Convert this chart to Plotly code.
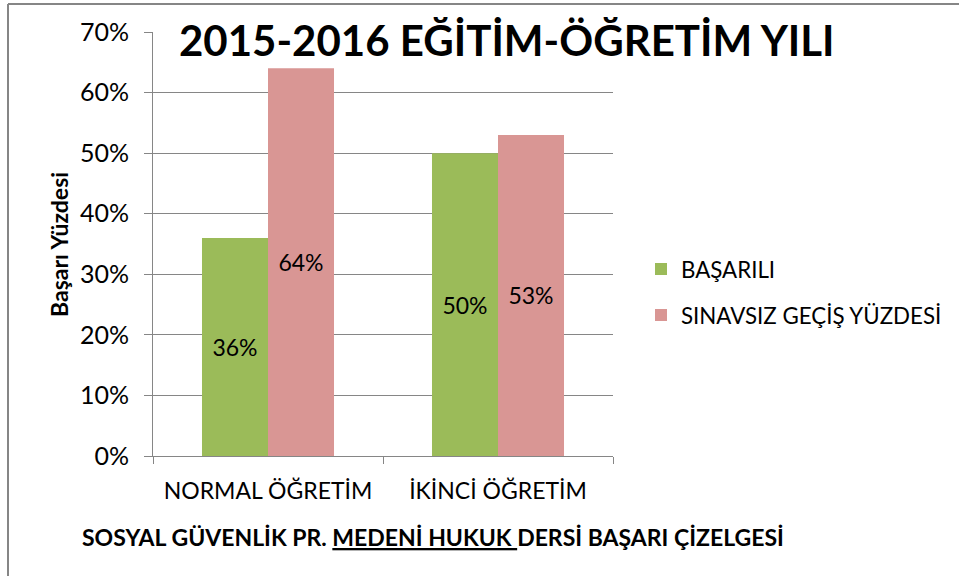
import plotly.graph_objects as go

categories = ["NORMAL ÖĞRETİM", "İKİNCİ ÖĞRETİM"]
basarili = [0.36, 0.50]
sinavsiz = [0.64, 0.53]
series_names = ["BAŞARILI", "SINAVSIZ GEÇİŞ YÜZDESİ"]
y_ticks = [0, 0.1, 0.2, 0.3, 0.4, 0.5, 0.6, 0.7]

FONT = "Lato, Carlito, Calibri, sans-serif"
GRID = "#868686"

# plot area in pixels
L, R, T, B = 153, 613, 32, 456
W, H = R - L, B - T
def px(x):
    return (x - L) / W
def py(y):
    return (B - y) / H

fig = go.Figure()
fig.add_trace(go.Bar(
    x=categories, y=basarili, name=series_names[0],
    marker=dict(color="#9BBB59", line=dict(width=0)),
    texttemplate="%{y:.0%}", textposition="inside", insidetextanchor="middle",
    textangle=0, textfont=dict(family=FONT, size=23, color="black"),
    legendgroup="a",
))
fig.add_trace(go.Bar(
    x=categories, y=sinavsiz, name=series_names[1],
    marker=dict(color="#D99694", line=dict(width=0)),
    texttemplate="%{y:.0%}", textposition="inside", insidetextanchor="middle",
    textangle=0, textfont=dict(family=FONT, size=23, color="black"),
    legendgroup="b",
))

fig.update_layout(
    width=959, height=576,
    margin=dict(l=L, r=959 - R, t=T, b=576 - B, autoexpand=False),
    paper_bgcolor="white", plot_bgcolor="white",
    barmode="group", bargap=0.426, bargroupgap=0,
    font=dict(family=FONT, size=23, color="black"),
    showlegend=True,
    legend=dict(x=px(641), y=py(248), xanchor="left", yanchor="top",
                font=dict(family=FONT, size=22.3, color="black"),
                traceorder="grouped", tracegroupgap=14,
                bgcolor="rgba(0,0,0,0)"),
    uniformtext=dict(mode=False),
)
fig.update_yaxes(
    range=[0, 0.7], tickvals=y_ticks, tickformat=".0%",
    showgrid=True, gridcolor=GRID, gridwidth=1,
    showline=True, linecolor=GRID, linewidth=1,
    ticks="outside", ticklen=8, tickcolor=GRID,
    zeroline=False, ticklabelstandoff=10,
    tickfont=dict(family=FONT, size=25, color="black"),
)
fig.update_xaxes(
    showline=True, linecolor=GRID, linewidth=1,
    ticks="outside", tickson="boundaries", ticklen=7, tickcolor=GRID,
    showgrid=False, ticklabelstandoff=14,
    tickfont=dict(family=FONT, size=23, color="black"),
)

fig.add_annotation(
    text="<b>2015-2016 EĞİTİM-ÖĞRETİM YILI</b>", xref="paper", yref="paper",
    x=px(507), y=py(40), xanchor="center", yanchor="middle", showarrow=False,
    font=dict(family=FONT, size=42, color="black"),
)
fig.add_annotation(
    text="<b>Başarı Yüzdesi</b>", xref="paper", yref="paper",
    x=px(59), y=py(245), xanchor="center", yanchor="middle", showarrow=False,
    textangle=-90, font=dict(family=FONT, size=23, color="black"),
)
fig.add_annotation(
    text="<b>SOSYAL GÜVENLİK PR. <u>MEDENİ HUKUK </u>DERSİ BAŞARI ÇİZELGESİ</b>",
    xref="paper", yref="paper",
    x=px(80), y=py(537), xanchor="left", yanchor="middle", showarrow=False,
    font=dict(family=FONT, size=23, color="black"),
)
# outer chart border (top and left edges visible in the frame)
fig.add_shape(
    type="line", xref="paper", yref="paper",
    x0=px(8), x1=px(970), y0=py(4), y1=py(4),
    line=dict(color=GRID, width=2), layer="below",
)
fig.add_shape(
    type="line", xref="paper", yref="paper",
    x0=px(8), x1=px(8), y0=py(590), y1=py(4),
    line=dict(color=GRID, width=2), layer="below",
)

fig.write_html(
    "out.html",
    config={"displayModeBar": False},
    post_script="document.body.style.margin='0';document.body.style.overflow='hidden';",
)
